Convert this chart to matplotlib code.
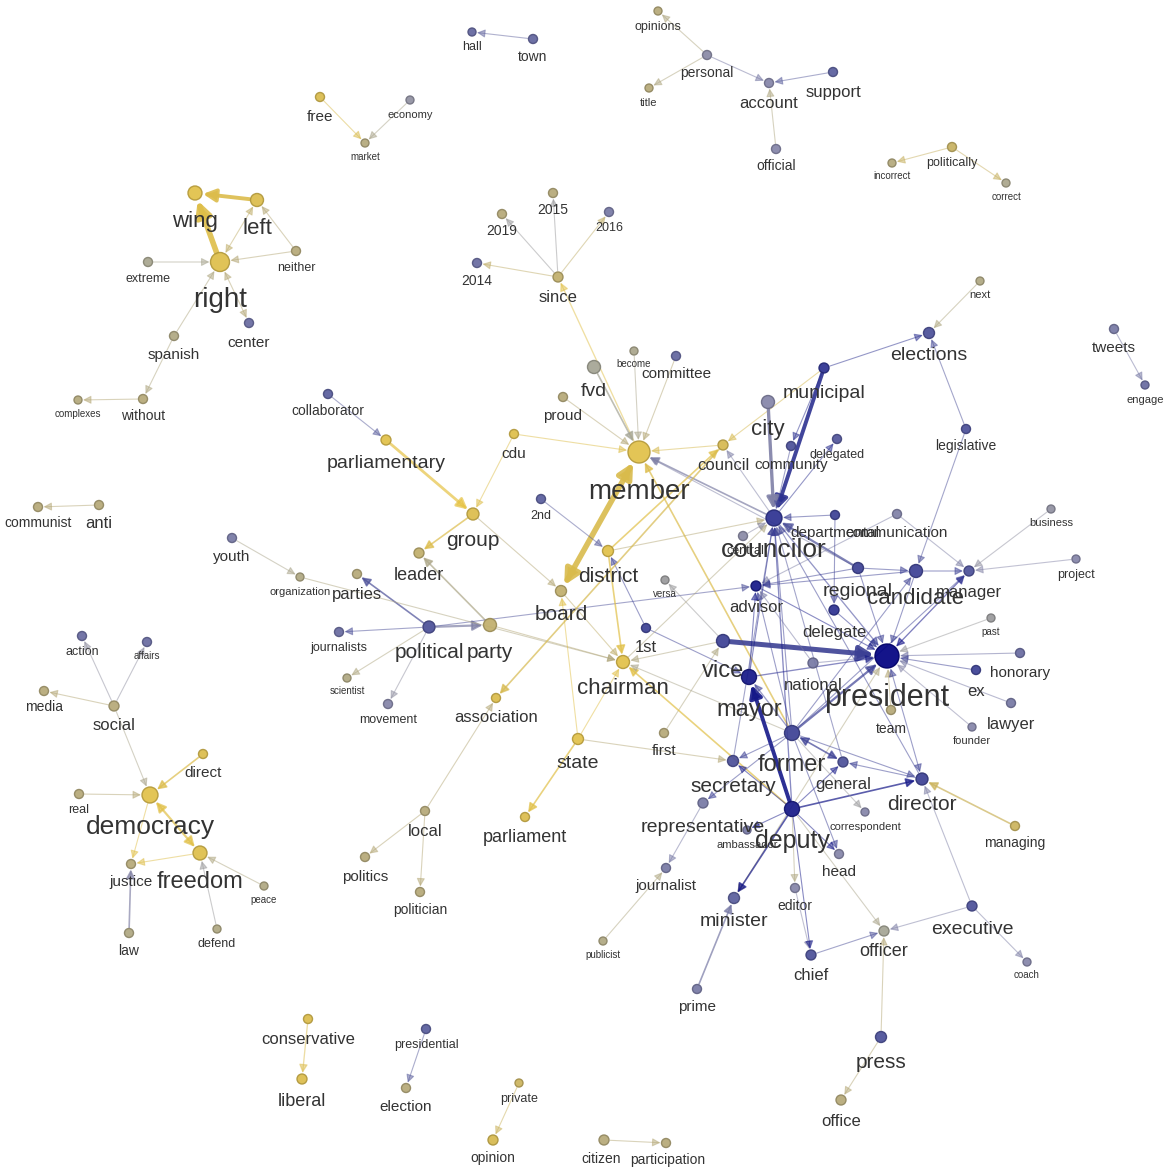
import matplotlib
matplotlib.use("Agg")
import matplotlib.pyplot as plt
from matplotlib.colors import LinearSegmentedColormap, to_rgb
from matplotlib.patches import FancyArrowPatch

plt.rcParams['font.family'] = ['Liberation Sans', 'DejaVu Sans']

# tone: 0 = gold ... 1 = navy
tone_cmap = LinearSegmentedColormap.from_list("tone", [
    (0.0, '#e6c344'), (0.15, '#d6b94e'), (0.3, '#b5a878'), (0.45, '#a4a494'),
    (0.6, '#8585a8'), (0.75, '#5a5e9c'), (0.9, '#2d3290'), (1.0, '#000080')])

# node layout (pixel space of the original graph drawing)
# name, x, y, radius, tone, label size, label offset
node_rows = [
    ("hall", 472, 32, 4, 0.72, 9, 15), ("town", 533, 39, 4.5, 0.72, 10, 18),
    ("opinions", 658, 11, 4, 0.3, 9, 16), ("personal", 707, 55, 4.5, 0.58, 10, 18),
    ("title", 649, 88, 4, 0.3, 8, 15), ("account", 769, 83, 4.5, 0.6, 12, 21),
    ("support", 833, 72, 4.5, 0.75, 12, 21), ("official", 776, 149, 4.5, 0.6, 10, 17),
    ("free", 320, 97, 4.5, 0.12, 11, 20), ("economy", 410, 100, 4, 0.55, 8, 15),
    ("market", 365, 143, 4, 0.32, 7, 14), ("incorrect", 892, 163, 4, 0.32, 7, 13),
    ("politically", 952, 147, 4.5, 0.22, 9, 16), ("correct", 1006, 183, 4, 0.4, 7, 14),
    ("wing", 195, 193, 7, 0.05, 16, 28), ("left", 257, 200, 6.5, 0.1, 16, 28),
    ("right", 220, 262, 9.5, 0.08, 20, 38), ("extreme", 148, 262, 4.5, 0.42, 9, 17),
    ("neither", 296, 251, 4.5, 0.3, 9, 17), ("center", 249, 323, 4.5, 0.7, 11, 20),
    ("spanish", 174, 336, 4.5, 0.35, 11, 19), ("without", 143, 399, 4.5, 0.3, 10, 17),
    ("complexes", 78, 400, 4, 0.32, 7, 14), ("communist", 38, 507, 4.5, 0.3, 10, 16),
    ("anti", 99, 505, 4.5, 0.3, 12, 19), ("since", 558, 277, 5, 0.25, 12, 21),
    ("2015", 553, 193, 4.5, 0.3, 10, 17), ("2019", 502, 214, 4.5, 0.3, 10, 17),
    ("2016", 609, 212, 4.5, 0.65, 9, 16), ("2014", 477, 263, 4.5, 0.7, 10, 18),
    ("fvd", 594, 367, 6.5, 0.45, 14, 24), ("become", 634, 351, 4, 0.4, 7, 13),
    ("committee", 676, 356, 4.5, 0.72, 11, 18), ("proud", 563, 397, 4.5, 0.3, 11, 19),
    ("member", 639, 452, 11, 0.05, 20, 40), ("council", 723, 445, 5, 0.15, 12, 21),
    ("city", 768, 402, 6.5, 0.6, 16, 28), ("community", 791, 446, 4.5, 0.8, 11, 19),
    ("delegated", 837, 439, 4.5, 0.78, 9, 16), ("municipal", 824, 368, 5, 0.9, 14, 25),
    ("elections", 929, 333, 5.5, 0.8, 14, 23), ("next", 980, 281, 4, 0.35, 8, 14),
    ("legislative", 966, 429, 4.5, 0.8, 10, 17), ("tweets", 1114, 329, 4.5, 0.65, 11, 19),
    ("engage", 1145, 385, 4, 0.7, 8, 15), ("collaborator", 328, 394, 4.5, 0.75, 10, 17),
    ("parliamentary", 386, 440, 5, 0.05, 14, 24), ("cdu", 514, 434, 4.5, 0.08, 11, 20),
    ("group", 473, 514, 6, 0.1, 15, 27), ("leader", 419, 553, 5, 0.25, 13, 22),
    ("2nd", 541, 499, 4.5, 0.75, 9, 17), ("central", 743, 536, 4.5, 0.58, 9, 15),
    ("councilor", 774, 518, 8, 0.9, 19, 32), ("departmental", 835, 515, 4.5, 0.85, 11, 18),
    ("communication", 897, 514, 4.5, 0.62, 11, 19), ("district", 608, 551, 5.5, 0.05, 15, 25),
    ("versa", 665, 580, 4, 0.5, 7, 14), ("advisor", 756, 586, 5, 0.95, 12, 22),
    ("regional", 858, 568, 5.5, 0.85, 14, 24), ("candidate", 916, 571, 6.5, 0.85, 16, 27),
    ("manager", 969, 571, 5, 0.8, 12, 21), ("business", 1051, 509, 4, 0.55, 8, 14),
    ("project", 1076, 559, 4, 0.6, 9, 16), ("delegate", 834, 610, 5, 0.9, 12, 22),
    ("past", 991, 618, 4, 0.5, 7, 14), ("president", 887, 656, 12, 1.0, 22, 42),
    ("honorary", 1020, 653, 4.5, 0.7, 11, 20), ("ex", 976, 670, 4.5, 0.85, 12, 21),
    ("lawyer", 1011, 703, 4.5, 0.65, 12, 21), ("founder", 972, 727, 4, 0.6, 8, 14),
    ("team", 891, 710, 4.5, 0.3, 10, 19), ("vice", 723, 641, 6.5, 0.85, 17, 30),
    ("mayor", 749, 677, 7.5, 0.95, 17, 33), ("national", 813, 663, 5, 0.65, 12, 22),
    ("former", 792, 733, 7.5, 0.85, 17, 32), ("secretary", 733, 761, 5.5, 0.8, 15, 26),
    ("general", 843, 762, 5, 0.8, 12, 22), ("director", 922, 779, 6, 0.85, 15, 26),
    ("deputy", 792, 809, 7.5, 0.95, 18, 32), ("representative", 703, 803, 5, 0.65, 14, 25),
    ("correspondent", 865, 812, 4, 0.6, 8, 15), ("head", 839, 854, 4.5, 0.6, 11, 18),
    ("ambassador", 747, 830, 4, 0.65, 8, 15), ("1st", 646, 628, 4.5, 0.85, 12, 19),
    ("first", 664, 733, 4.5, 0.3, 11, 18), ("journalist", 666, 868, 4.5, 0.65, 11, 18),
    ("minister", 734, 898, 5.5, 0.75, 14, 23), ("editor", 795, 888, 4.5, 0.6, 10, 18),
    ("chief", 811, 955, 5, 0.8, 12, 20), ("officer", 884, 931, 5, 0.45, 13, 21),
    ("prime", 697, 989, 4.5, 0.65, 11, 18), ("publicist", 603, 941, 4, 0.35, 7, 14),
    ("managing", 1015, 826, 4.5, 0.2, 10, 17), ("executive", 972, 906, 5, 0.8, 14, 23),
    ("coach", 1027, 962, 4, 0.6, 7, 13), ("press", 881, 1037, 5.5, 0.8, 15, 25),
    ("office", 841, 1100, 5, 0.3, 12, 21), ("parties", 357, 574, 4.5, 0.3, 12, 21),
    ("political", 429, 627, 6, 0.8, 15, 25), ("party", 490, 625, 6.5, 0.25, 15, 27),
    ("journalists", 339, 632, 4.5, 0.7, 9, 16), ("scientist", 347, 678, 4, 0.35, 7, 13),
    ("movement", 388, 704, 4.5, 0.6, 9, 16), ("association", 496, 698, 4.5, 0.1, 12, 19),
    ("board", 561, 591, 5.5, 0.25, 15, 23), ("chairman", 623, 662, 6.5, 0.05, 16, 27),
    ("state", 578, 739, 5.5, 0.05, 14, 24), ("parliament", 525, 817, 4.5, 0.1, 13, 21),
    ("youth", 232, 538, 4.5, 0.65, 11, 19), ("organization", 300, 577, 4, 0.35, 8, 15),
    ("local", 425, 811, 4.5, 0.3, 12, 20), ("politics", 365, 857, 4.5, 0.3, 11, 20),
    ("politician", 420, 892, 4.5, 0.3, 10, 18), ("action", 82, 636, 4.5, 0.7, 9, 16),
    ("affairs", 147, 642, 4.5, 0.7, 7, 14), ("media", 44, 691, 4.5, 0.3, 10, 16),
    ("social", 114, 706, 5, 0.3, 12, 19), ("direct", 203, 754, 4.5, 0.1, 11, 19),
    ("real", 79, 794, 4.5, 0.3, 9, 16), ("democracy", 150, 795, 8, 0.05, 19, 32),
    ("freedom", 200, 853, 7, 0.08, 17, 29), ("justice", 131, 864, 4.5, 0.3, 11, 18),
    ("peace", 264, 886, 4, 0.35, 7, 14), ("law", 129, 933, 4.5, 0.35, 10, 18),
    ("defend", 217, 929, 4, 0.35, 9, 15), ("conservative", 308, 1019, 4.5, 0.1, 12, 21),
    ("liberal", 302, 1079, 5, 0.1, 13, 22), ("presidential", 426, 1029, 4.5, 0.75, 9, 16),
    ("election", 406, 1088, 4.5, 0.3, 11, 19), ("private", 519, 1083, 4, 0.2, 9, 16),
    ("opinion", 493, 1140, 5, 0.15, 10, 18), ("citizen", 604, 1140, 5, 0.3, 10, 19),
    ("participation", 666, 1143, 4.5, 0.3, 10, 17),
]
names = [r[0] for r in node_rows]
node_x = {r[0]: r[1] for r in node_rows}
node_y = {r[0]: r[2] for r in node_rows}
node_r = {r[0]: r[3] for r in node_rows}
node_tone = {r[0]: r[4] for r in node_rows}
label_size = {r[0]: r[5] for r in node_rows}
label_dy = {r[0]: r[6] for r in node_rows}

# source, target, weight
edges = [
    ("town", "hall", 1), ("personal", "opinions", 1), ("personal", "title", 1),
    ("personal", "account", 1), ("support", "account", 1), ("official", "account", 1),
    ("free", "market", 1), ("economy", "market", 1), ("politically", "incorrect", 1),
    ("politically", "correct", 1), ("left", "wing", 3.5), ("right", "wing", 5),
    ("left", "right", 1), ("neither", "left", 1), ("neither", "right", 1),
    ("extreme", "right", 1), ("right", "center", 1), ("spanish", "right", 1),
    ("spanish", "without", 1), ("without", "complexes", 1), ("anti", "communist", 1),
    ("since", "2015", 1), ("since", "2019", 1), ("since", "2016", 1), ("since", "2014", 1),
    ("member", "since", 1.2), ("fvd", "member", 1.5), ("become", "member", 1),
    ("committee", "member", 1), ("proud", "member", 1), ("council", "member", 1),
    ("board", "member", 5), ("cdu", "member", 1), ("cdu", "group", 1),
    ("councilor", "member", 1.5), ("regional", "member", 1), ("former", "member", 1.5),
    ("parliamentary", "group", 2.5), ("collaborator", "parliamentary", 1),
    ("group", "leader", 1.5), ("group", "board", 1), ("party", "leader", 1.5),
    ("political", "party", 2), ("political", "parties", 1.5), ("political", "journalists", 1),
    ("political", "scientist", 1), ("political", "movement", 1), ("political", "advisor", 1),
    ("party", "chairman", 1), ("organization", "chairman", 1), ("youth", "organization", 1),
    ("board", "chairman", 1), ("state", "board", 1), ("state", "chairman", 1),
    ("state", "parliament", 1.5), ("state", "secretary", 1), ("first", "vice", 1),
    ("deputy", "chairman", 1.5), ("vice", "chairman", 1), ("former", "chairman", 1),
    ("1st", "district", 1), ("1st", "mayor", 1), ("2nd", "district", 1), ("vice", "versa", 1),
    ("district", "council", 1.5), ("district", "councilor", 1), ("district", "chairman", 1.5),
    ("council", "association", 1.5), ("local", "association", 1), ("local", "politics", 1),
    ("local", "politician", 1), ("municipal", "council", 1), ("municipal", "councilor", 3.5),
    ("municipal", "community", 1), ("municipal", "elections", 1), ("city", "councilor", 3),
    ("councilor", "council", 1), ("community", "councilor", 1), ("councilor", "delegated", 1),
    ("departmental", "councilor", 1), ("regional", "councilor", 2), ("chairman", "councilor", 1),
    ("communication", "advisor", 1), ("communication", "manager", 1),
    ("departmental", "delegate", 1), ("regional", "candidate", 1), ("candidate", "manager", 1),
    ("regional", "advisor", 1), ("candidate", "advisor", 1), ("legislative", "elections", 1),
    ("legislative", "candidate", 1), ("next", "elections", 1), ("business", "manager", 1),
    ("project", "manager", 1), ("president", "manager", 1.2), ("past", "president", 1),
    ("honorary", "president", 1), ("ex", "president", 1), ("lawyer", "president", 1),
    ("founder", "president", 1), ("team", "president", 1), ("delegate", "president", 1),
    ("national", "president", 1), ("vice", "president", 4.5), ("former", "president", 2),
    ("mayor", "president", 1.2), ("regional", "president", 1), ("candidate", "president", 1),
    ("councilor", "president", 1.2), ("director", "president", 1), ("advisor", "president", 1),
    ("president", "minister", 1), ("deputy", "mayor", 3.5), ("former", "mayor", 1.2),
    ("former", "secretary", 1), ("former", "general", 1.5), ("former", "director", 1),
    ("deputy", "director", 1.5), ("deputy", "general", 1), ("director", "general", 1),
    ("deputy", "secretary", 1), ("former", "correspondent", 1), ("former", "head", 1),
    ("deputy", "head", 1), ("deputy", "editor", 1), ("editor", "chief", 1),
    ("deputy", "chief", 1), ("chief", "officer", 1), ("executive", "officer", 1),
    ("executive", "director", 1), ("executive", "coach", 1), ("press", "officer", 1),
    ("press", "office", 1), ("managing", "director", 1.5), ("deputy", "minister", 1.5),
    ("prime", "minister", 1.5), ("former", "representative", 1),
    ("representative", "journalist", 1), ("publicist", "journalist", 1),
    ("deputy", "officer", 1), ("deputy", "ambassador", 1), ("former", "advisor", 1),
    ("mayor", "advisor", 1), ("deputy", "councilor", 1.2), ("former", "councilor", 1),
    ("mayor", "councilor", 1), ("secretary", "councilor", 1), ("general", "councilor", 1),
    ("director", "councilor", 1), ("central", "councilor", 1), ("former", "candidate", 1),
    ("former", "manager", 1), ("national", "advisor", 1), ("tweets", "engage", 1),
    ("conservative", "liberal", 1.2), ("presidential", "election", 1),
    ("private", "opinion", 1), ("citizen", "participation", 1), ("social", "action", 1),
    ("social", "affairs", 1), ("social", "media", 1), ("social", "democracy", 1),
    ("direct", "democracy", 1.5), ("real", "democracy", 1), ("democracy", "freedom", 2),
    ("democracy", "justice", 1), ("freedom", "justice", 1), ("law", "justice", 1.5),
    ("defend", "freedom", 1), ("peace", "freedom", 1),
]
# edge tones that differ from the source node
edge_tone = {
    ("personal", "opinions"): 0.35, ("personal", "title"): 0.35, ("personal", "account"): 0.65,
    ("official", "account"): 0.35, ("economy", "market"): 0.4, ("left", "right"): 0.25,
    ("right", "center"): 0.3, ("since", "2015"): 0.5, ("since", "2019"): 0.5,
    ("committee", "member"): 0.3, ("board", "member"): 0.12, ("councilor", "member"): 0.62,
    ("regional", "member"): 0.62, ("former", "member"): 0.1, ("parliamentary", "group"): 0.0,
    ("group", "board"): 0.3, ("party", "leader"): 0.38, ("political", "party"): 0.62,
    ("political", "scientist"): 0.35, ("political", "movement"): 0.55,
    ("party", "chairman"): 0.3, ("youth", "organization"): 0.4, ("state", "secretary"): 0.3,
    ("first", "vice"): 0.35, ("deputy", "chairman"): 0.05, ("vice", "chairman"): 0.35,
    ("former", "chairman"): 0.4, ("vice", "versa"): 0.5, ("district", "councilor"): 0.3,
    ("local", "association"): 0.3, ("municipal", "council"): 0.15, ("city", "councilor"): 0.62,
    ("councilor", "council"): 0.62, ("chairman", "councilor"): 0.35,
    ("communication", "advisor"): 0.62, ("president", "minister"): 0.35,
    ("former", "correspondent"): 0.5, ("deputy", "editor"): 0.35, ("executive", "officer"): 0.62,
    ("executive", "director"): 0.62, ("executive", "coach"): 0.62, ("press", "officer"): 0.3,
    ("press", "office"): 0.3, ("publicist", "journalist"): 0.35, ("deputy", "officer"): 0.4,
    ("social", "action"): 0.55, ("social", "affairs"): 0.55, ("social", "democracy"): 0.4,
    ("law", "justice"): 0.6, ("defend", "freedom"): 0.5, ("team", "president"): 0.3,
    ("regional", "councilor"): 0.8,
}
two_way = {("left", "right"), ("right", "center"), ("board", "member"),
           ("president", "manager"), ("director", "president"), ("president", "minister"),
           ("former", "general"), ("democracy", "freedom")}

fig = plt.figure(figsize=(11.73, 11.68), dpi=100)
ax = fig.add_axes([0, 0, 1, 1])
ax.set_xlim(0, 1173)
ax.set_ylim(1168, 0)
ax.axis('off')

px = 72 / 100  # points per pixel

for s, t, w in edges:
    tone = edge_tone.get((s, t), node_tone[s])
    col = tone_cmap(tone)
    alpha = 0.5 if w < 1.4 else (0.7 if w < 3 else 0.9)
    style = '<|-|>' if (s, t) in two_way else '-|>'
    head = 7 + 1.8 * w
    arr = FancyArrowPatch((node_x[s], node_y[s]), (node_x[t], node_y[t]),
                          arrowstyle=f"{style},head_length=0.55,head_width=0.28",
                          mutation_scale=head, linewidth=w * 0.8,
                          color=col, alpha=alpha,
                          shrinkA=(node_r[s] + 1) * px, shrinkB=(node_r[t] + 1) * px,
                          zorder=1)
    ax.add_patch(arr)

xs = [node_x[n] for n in names]
ys = [node_y[n] for n in names]
sizes = [(2 * node_r[n] * px) ** 2 for n in names]
fills = [tone_cmap(node_tone[n]) for n in names]
edgecols = [tuple(c * 0.8 for c in to_rgb(f)) for f in fills]
ax.scatter(xs, ys, s=sizes, c=fills, edgecolors=edgecols, linewidths=1.0,
           alpha=0.92, zorder=2)

label_dx = {"central": 2, "citizen": -3, "participation": 2}
for n in names:
    ax.text(node_x[n] + label_dx.get(n, 0), node_y[n] + label_dy[n], n,
            fontsize=label_size[n], color='#333333',
            ha='center', va='center', zorder=3)

fig.savefig("out.png", dpi=100, facecolor='white')
